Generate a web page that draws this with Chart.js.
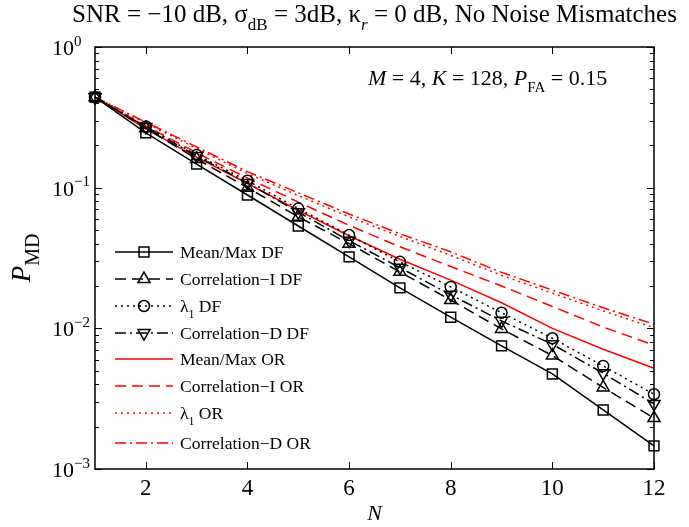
<!DOCTYPE html>
<html>
<head>
<meta charset="utf-8">
<script src="https://cdn.jsdelivr.net/npm/chart.js@4.4.0/dist/chart.umd.min.js"></script>
<style>
  html, body { margin: 0; padding: 0; background: #fff; }
  #wrap { width: 689px; height: 527px; }
</style>
</head>
<body>
<div id="wrap"><canvas id="pmdChart" width="689" height="527"></canvas></div>
<script>
const nValues = [1, 2, 3, 4, 5, 6, 7, 8, 9, 10, 11, 12];

const meanMaxDF = [0.44, 0.245, 0.147, 0.0887, 0.0534, 0.0322, 0.0194, 0.0120, 0.0075, 0.00474, 0.00263, 0.00146];
const corrIDF   = [0.44, 0.265, 0.160, 0.100, 0.062, 0.040, 0.0252, 0.0159, 0.0099, 0.0064, 0.0038, 0.0023];
const lambdaDF  = [0.44, 0.272, 0.171, 0.112, 0.071, 0.046, 0.0297, 0.0197, 0.0129, 0.0085, 0.0054, 0.0034];
const corrDDF   = [0.44, 0.270, 0.168, 0.108, 0.067, 0.042, 0.0270, 0.0173, 0.0113, 0.0077, 0.0048, 0.0029];
const meanMaxOR = [0.44, 0.262, 0.165, 0.107, 0.069, 0.0455, 0.031, 0.022, 0.0152, 0.0100, 0.0071, 0.0052];
const corrIOR   = [0.44, 0.275, 0.177, 0.117, 0.079, 0.054, 0.038, 0.0275, 0.020, 0.0143, 0.0102, 0.0076];
const lambdaOR  = [0.44, 0.288, 0.190, 0.126, 0.088, 0.062, 0.045, 0.033, 0.0238, 0.0178, 0.0133, 0.0101];
const corrDOR   = [0.44, 0.292, 0.195, 0.130, 0.092, 0.065, 0.047, 0.035, 0.0250, 0.0187, 0.0140, 0.0107];

const xTicks = [2, 4, 6, 8, 10, 12];
const yDecades = [0, -1, -2, -3];

const SERIF = '"Liberation Serif", "Times New Roman", serif';

function series(label, values, color, dash, marker, rotation) {
  return {
    label: label,
    data: nValues.map((n, i) => ({ x: n, y: values[i] })),
    borderColor: color,
    borderWidth: 1.5,
    borderDash: dash,
    pointStyle: marker || false,
    pointRadius: marker ? (marker === "circle" ? 5.5 : 7) : 0,
    pointRotation: rotation || 0,
    pointBorderColor: color,
    pointBackgroundColor: "rgba(0,0,0,0)",
    pointBorderWidth: 1.5,
    fill: false,
    tension: 0,
    clip: false,
  };
}

const datasets = [
  series("Mean/Max DF", meanMaxDF, "#000", [], "rect"),
  series("Correlation\u2212I DF", corrIDF, "#000", [11, 6], "triangle"),
  series("\u03bb1 DF", lambdaDF, "#000", [2, 4], "circle"),
  series("Correlation\u2212D DF", corrDDF, "#000", [11, 4, 2, 4], "triangle", 180),
  series("Mean/Max OR", meanMaxOR, "#f00", []),
  series("Correlation\u2212I OR", corrIOR, "#f00", [11, 6]),
  series("\u03bb1 OR", lambdaOR, "#f00", [2, 4]),
  series("Correlation\u2212D OR", corrDOR, "#f00", [11, 4, 2, 4]),
];

// legend texts as rich parts (subscript on lambda)
const legendParts = [
  [{ t: "Mean/Max DF" }],
  [{ t: "Correlation\u2212I DF" }],
  [{ t: "\u03bb" }, { t: "1", sub: true }, { t: " DF" }],
  [{ t: "Correlation\u2212D DF" }],
  [{ t: "Mean/Max OR" }],
  [{ t: "Correlation\u2212I OR" }],
  [{ t: "\u03bb" }, { t: "1", sub: true }, { t: " OR" }],
  [{ t: "Correlation\u2212D OR" }],
];
const legendRows = [252, 279, 306, 333, 359, 386, 413, 443];

function fontFor(p, size, subSize) {
  const s = p.sub || p.sup ? subSize : size;
  return (p.italic ? "italic " : "") + s + "px " + SERIF;
}

function drawRich(ctx, parts, x, y, size, subSize, align) {
  let w = 0;
  parts.forEach((p) => {
    ctx.font = fontFor(p, size, subSize);
    w += ctx.measureText(p.t).width;
  });
  let cx = align === "center" ? x - w / 2 : x;
  ctx.textAlign = "left";
  ctx.textBaseline = "alphabetic";
  parts.forEach((p) => {
    ctx.font = fontFor(p, size, subSize);
    let dy = 0;
    if (p.sub) dy = size * 0.32;
    if (p.sup) dy = -size * 0.42;
    ctx.fillText(p.t, cx, y + dy);
    cx += ctx.measureText(p.t).width;
  });
}

function marker(ctx, ds, x, y) {
  if (!ds.pointStyle) return;
  ctx.save();
  ctx.setLineDash([]);
  ctx.lineWidth = ds.pointBorderWidth;
  ctx.strokeStyle = ds.pointBorderColor;
  ctx.fillStyle = "rgba(0,0,0,0)";
  Chart.helpers.drawPoint(ctx, {
    pointStyle: ds.pointStyle,
    radius: ds.pointRadius,
    rotation: ds.pointRotation,
    borderWidth: ds.pointBorderWidth,
  }, x, y);
  ctx.restore();
}

const decorPlugin = {
  id: "decor",
  afterDraw(chart) {
    const ctx = chart.ctx;
    const area = chart.chartArea;
    const xs = chart.scales.x;
    const ys = chart.scales.y;
    ctx.save();
    ctx.fillStyle = "#000";
    ctx.strokeStyle = "#000";
    ctx.lineWidth = 1.5;
    ctx.setLineDash([]);
    ctx.strokeRect(area.left, area.top, area.right - area.left, area.bottom - area.top);

    // inward tick marks
    ctx.lineWidth = 1;
    ctx.beginPath();
    xTicks.forEach((v) => {
      const px = Math.round(xs.getPixelForValue(v)) + 0.5;
      ctx.moveTo(px, area.bottom); ctx.lineTo(px, area.bottom - 7);
      ctx.moveTo(px, area.top); ctx.lineTo(px, area.top + 7);
    });
    yDecades.forEach((e) => {
      for (let m = 1; m <= 9; m++) {
        if (e === 0 && m > 1) break;
        const v = m * Math.pow(10, e);
        const py = Math.round(ys.getPixelForValue(v)) + 0.5;
        const len = m === 1 ? 7 : 4;
        ctx.moveTo(area.left, py); ctx.lineTo(area.left + len, py);
        ctx.moveTo(area.right, py); ctx.lineTo(area.right - len, py);
      }
    });
    ctx.stroke();

    // y tick labels 10^k
    yDecades.forEach((e) => {
      const py = ys.getPixelForValue(Math.pow(10, e));
      drawRich(ctx, [{ t: "10" }, { t: e < 0 ? "\u2212" + Math.abs(e) : String(e), sup: true }],
        52, py + 8, 22, 15, "left");
    });

    // title
    drawRich(ctx, [
      { t: "SNR = \u221210 dB, \u03c3" }, { t: "dB", sub: true },
      { t: " = 3dB, \u03ba" }, { t: "r", sub: true, italic: true },
      { t: " = 0 dB, No Noise Mismatches" },
    ], (area.left + area.right) / 2, 22, 25, 17, "center");

    // annotation
    drawRich(ctx, [
      { t: "M", italic: true }, { t: " = 4, " }, { t: "K", italic: true }, { t: " = 128, " },
      { t: "P", italic: true }, { t: "FA", sub: true }, { t: " = 0.15" },
    ], 368, 85, 22, 15, "left");

    // axis labels
    drawRich(ctx, [{ t: "N", italic: true }], (area.left + area.right) / 2, 520, 22, 15, "center");
    ctx.save();
    ctx.translate(30, 258);
    ctx.rotate(-Math.PI / 2);
    drawRich(ctx, [{ t: "P", italic: true }, { t: "MD", sub: true }], 0, 0, 27, 20, "center");
    ctx.restore();

    // legend
    chart.data.datasets.forEach((ds, i) => {
      const y = legendRows[i];
      ctx.save();
      ctx.strokeStyle = ds.borderColor;
      ctx.lineWidth = ds.borderWidth;
      ctx.setLineDash(ds.borderDash);
      ctx.beginPath();
      ctx.moveTo(115, y);
      ctx.lineTo(173, y);
      ctx.stroke();
      ctx.restore();
      marker(ctx, ds, 144, y);
      ctx.fillStyle = "#000";
      drawRich(ctx, legendParts[i], 180, y + 6, 17.5, 12, "left");
    });
    ctx.restore();
  },
};

new Chart(document.getElementById("pmdChart"), {
  type: "line",
  data: { datasets: datasets },
  options: {
    responsive: false,
    animation: false,
    devicePixelRatio: 1,
    layout: { padding: { left: 0, top: 47, right: 35, bottom: 0 } },
    plugins: { legend: { display: false }, tooltip: { enabled: false } },
    scales: {
      x: {
        type: "linear",
        min: 1,
        max: 12,
        afterFit(scale) { scale.height = 58; },
        grid: { display: false, drawTicks: false },
        border: { display: false },
        ticks: {
          stepSize: 2,
          includeBounds: false,
          padding: 6,
          color: "#000",
          font: { family: SERIF, size: 23 },
          maxRotation: 0,
        },
      },
      y: {
        type: "logarithmic",
        min: 0.001,
        max: 1,
        afterFit(scale) { scale.width = 95; },
        grid: { display: false, drawTicks: false },
        border: { display: false },
        ticks: { display: false },
      },
    },
  },
  plugins: [decorPlugin],
});
</script>
</body>
</html>
